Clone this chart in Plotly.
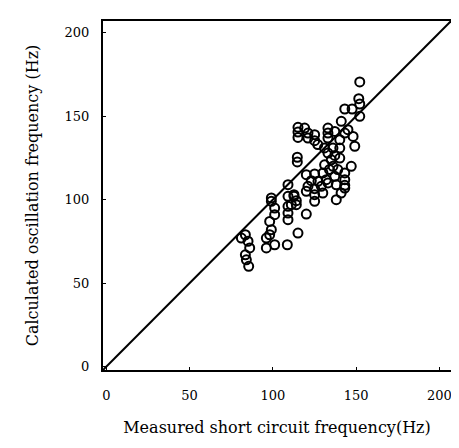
import plotly.graph_objects as go

# Measured short circuit frequency (Hz)
measured = [
    81.1, 83.5, 85.1, 86.1, 83.5, 84.1, 85.5,
    99.1, 101.1, 101.1, 98.1, 99.1, 98.1, 96.1, 96.1, 101.1,
    109.1, 109.1, 109.1, 112.7, 114.1, 120.1, 115.1, 108.7,
    120.1, 125.1, 125.1, 138.1, 143.2,
    152.2, 151.6, 152.2, 143.2, 147.6, 152.2, 141.1, 145.1, 143.2, 148.2, 149.2,
    140.2, 133.1, 133.1, 133.1, 137.2,
    115.1, 115.1, 115.1, 119.1, 121.1, 121.1, 125.1, 125.1,
    114.7, 114.7,
    136.1, 140.2, 133.1, 137.2, 135.1, 140.2, 131.1, 136.1, 147.1, 143.2,
    120.1, 125.1, 130.1, 123.1, 127.1, 132.1, 137.2, 133.1, 138.1, 143.2, 143.2,
    121.1, 125.1, 129.1, 109.1, 99.1, 109.1, 112.7, 114.1, 111.1,
    130.0, 134.0, 141.0, 127.0, 139.0, 131.0,
]
# Calculated oscillation frequency (Hz)
calculated = [
    77.0, 79.0, 75.1, 71.1, 67.0, 64.0, 60.1,
    101.0, 95.0, 91.0, 87.0, 82.0, 79.0, 77.0, 71.1, 73.0,
    96.0, 92.0, 88.0, 102.0, 97.0, 91.4, 80.0, 73.0,
    105.0, 103.0, 99.0, 100.0, 107.0,
    170.5, 160.5, 157.3, 154.3, 154.3, 149.9, 146.9, 141.9, 139.9, 137.9, 132.0,
    135.9, 142.9, 139.9, 136.9, 140.9,
    143.3, 140.5, 137.3, 142.9, 139.9, 136.9, 138.9, 135.3,
    125.4, 122.6,
    130.9, 130.9, 127.9, 126.5, 123.9, 124.9, 120.9, 120.0, 120.0, 116.0,
    115.0, 115.4, 116.0, 111.4, 111.0, 112.0, 114.0, 110.0, 108.9, 112.0, 108.6,
    108.0, 106.6, 108.0, 109.0, 99.0, 102.0, 103.0, 99.4, 97.0,
    104.0, 118.0, 104.0, 133.0, 118.0, 131.0,
]
# Identity line y = x
line_x = [-10, 250]
line_y = [-10, 250]

x_ticks = [0, 50, 100, 150, 200]
y_ticks = [0, 50, 100, 150, 200]

fig = go.Figure()
fig.add_trace(go.Scatter(x=line_x, y=line_y, mode="lines",
                         line=dict(color="black", width=2), hoverinfo="skip"))
fig.add_trace(go.Scatter(x=measured, y=calculated, mode="markers",
                         marker=dict(symbol="circle-open", size=9, color="black",
                                     line=dict(width=2, color="black"))))

font_fam = "DejaVu Serif"
fig.update_layout(
    width=459, height=448,
    margin=dict(l=95, r=16, t=13, b=86),
    paper_bgcolor="white", plot_bgcolor="white",
    showlegend=False,
    font=dict(family=font_fam, color="black"),
)
fig.update_xaxes(
    range=[-2, 207], tickvals=x_ticks, ticktext=[str(v) for v in x_ticks],
    showgrid=False, zeroline=False, showline=True, linecolor="black", linewidth=2,
    mirror=True, ticks="inside", ticklen=3, tickcolor="black",
    tickfont=dict(size=13, family=font_fam), ticklabelstandoff=12,
    title=dict(text="Measured short circuit frequency(Hz)",
               font=dict(size=16, family=font_fam), standoff=20),
)
fig.update_yaxes(
    range=[-2, 207], tickvals=y_ticks, ticktext=[str(v) for v in y_ticks],
    showgrid=False, zeroline=False, showline=True, linecolor="black", linewidth=2,
    mirror=True, ticks="inside", ticklen=3, tickcolor="black",
    tickfont=dict(size=13, family=font_fam), ticklabelstandoff=9,
    title=dict(text="Calculated oscillation frequency (Hz)",
               font=dict(size=16, family=font_fam), standoff=22),
)

fig.write_html("out.html")
